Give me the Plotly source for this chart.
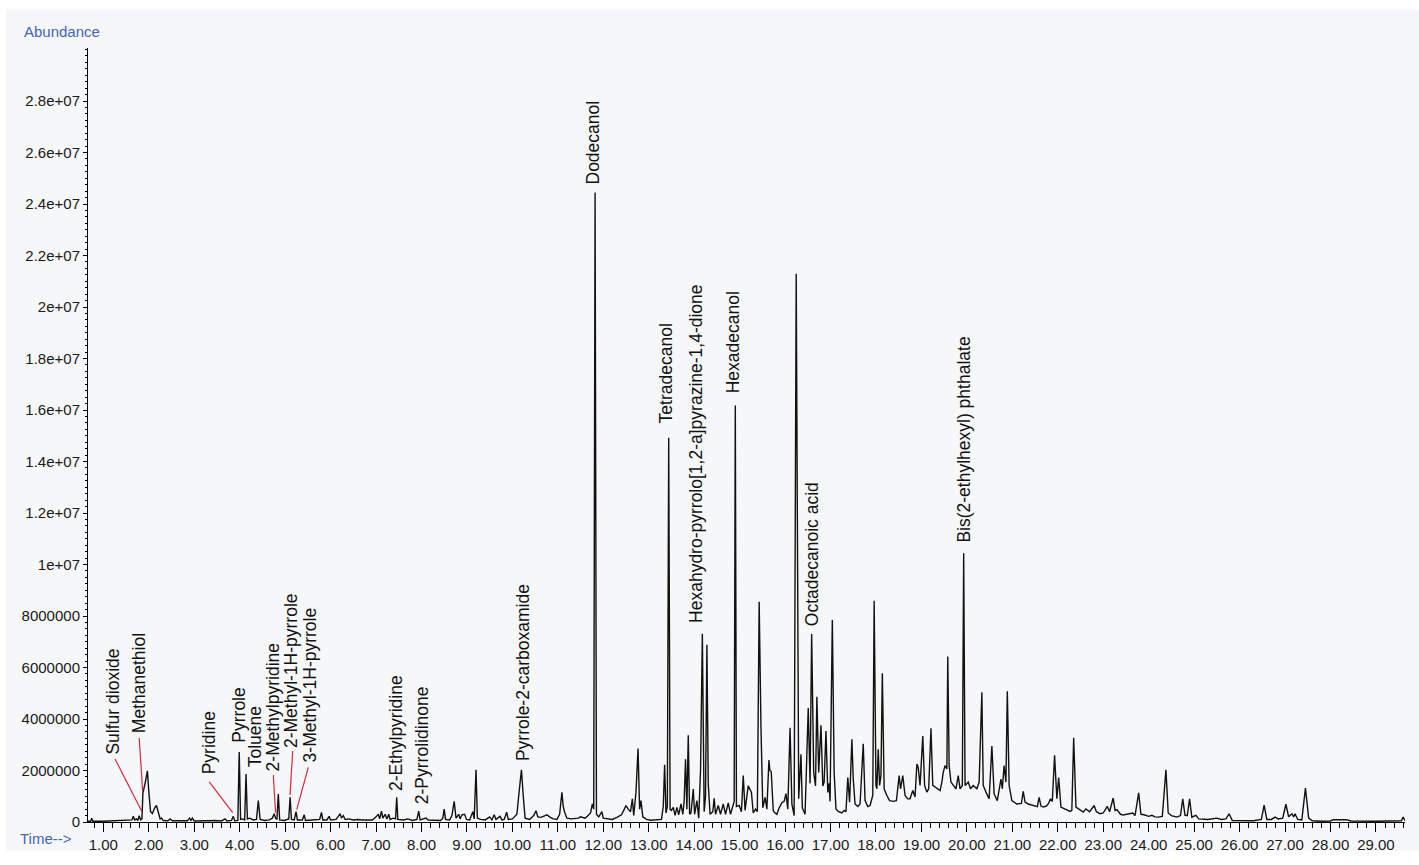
import numpy as np
import plotly.graph_objects as go

# ---------------- chromatogram trace (retention time in min, abundance in millions) ----------------
rt_a = [0.66, 0.72, 0.745, 0.77, 1.00, 1.30, 1.55, 1.63, 1.66, 1.69,
        1.73, 1.76, 1.79, 1.82, 1.85, 1.87, 1.93, 1.97, 2.00, 2.04,
        2.08, 2.13, 2.17, 2.21, 2.25, 2.28, 2.32, 2.42, 2.47, 2.52,
        2.70, 2.85, 2.90, 2.93, 2.96, 3.00, 3.30, 3.45, 3.60, 3.68,
        3.72, 3.82, 3.86, 3.89]
ab_a = [0.03, 0.03, 0.15, 0.03, 0.03, 0.04, 0.05, 0.08, 0.22, 0.08,
        0.12, 0.06, 0.24, 0.08, 0.12, 1.10, 1.60, 1.99, 1.20, 0.40,
        0.33, 0.55, 0.64, 0.40, 0.12, 0.15, 0.06, 0.05, 0.12, 0.05,
        0.04, 0.05, 0.15, 0.06, 0.15, 0.04, 0.05, 0.06, 0.04, 0.12,
        0.04, 0.06, 0.22, 0.05]

rt_b = [3.96, 3.99, 4.02, 4.06, 4.11, 4.14, 4.17, 4.22, 4.30, 4.37,
        4.41, 4.45, 4.55, 4.65, 4.72, 4.76, 4.79, 4.82, 4.85, 4.88,
        4.98, 5.05, 5.08, 5.11, 5.14, 5.20, 5.24, 5.27, 5.38, 5.42,
        5.45, 5.60, 5.68, 5.76, 5.80, 5.83, 5.92, 5.97, 6.00, 6.12,
        6.18, 6.21, 6.24, 6.28, 6.32, 6.40, 6.50, 6.60, 6.70, 6.85,
        6.92, 7.00, 7.05, 7.08, 7.12, 7.15, 7.20, 7.24, 7.28, 7.31,
        7.38, 7.43, 7.455, 7.48, 7.60, 7.70, 7.80, 7.90, 7.94, 7.97,
        8.10, 8.15, 8.30, 8.42, 8.47, 8.50, 8.53, 8.62, 8.67, 8.72,
        8.76, 8.82, 8.85, 8.89, 8.95, 8.99, 9.06, 9.13, 9.16, 9.20,
        9.23, 9.30, 9.40, 9.50, 9.55, 9.60, 9.64, 9.73, 9.77, 9.82,
        9.875, 9.91, 10.00, 10.10, 10.15, 10.20, 10.24, 10.28, 10.38, 10.47,
        10.52, 10.56, 10.63, 10.70, 10.76, 10.82, 10.90, 10.98, 11.04, 11.09,
        11.12, 11.15, 11.20]
ab_b = [0.06, 2.72, 0.10, 0.12, 0.08, 1.86, 0.12, 0.15, 0.08, 0.10,
        0.83, 0.10, 0.06, 0.08, 0.15, 0.32, 0.15, 0.10, 1.09, 0.08,
        0.06, 0.10, 0.12, 0.96, 0.10, 0.08, 0.40, 0.08, 0.08, 0.28,
        0.06, 0.08, 0.10, 0.10, 0.37, 0.08, 0.08, 0.22, 0.08, 0.10,
        0.25, 0.32, 0.15, 0.25, 0.10, 0.12, 0.08, 0.10, 0.08, 0.10,
        0.08, 0.20, 0.30, 0.12, 0.42, 0.15, 0.30, 0.12, 0.30, 0.10,
        0.15, 0.12, 0.96, 0.10, 0.08, 0.12, 0.06, 0.10, 0.42, 0.08,
        0.15, 0.08, 0.08, 0.06, 0.15, 0.50, 0.10, 0.08, 0.25, 0.80,
        0.15, 0.30, 0.12, 0.28, 0.30, 0.10, 0.08, 0.40, 0.12, 2.03,
        0.15, 0.10, 0.08, 0.20, 0.08, 0.28, 0.10, 0.22, 0.08, 0.10,
        0.38, 0.10, 0.12, 0.30, 1.20, 2.03, 1.00, 0.15, 0.10, 0.25,
        0.44, 0.20, 0.18, 0.25, 0.28, 0.20, 0.12, 0.10, 0.30, 1.15,
        0.60, 0.38, 0.15]

rt_c = [11.30, 11.45, 11.50, 11.60, 11.65, 11.72, 11.76, 11.79, 11.82, 11.85,
        11.90, 11.93, 11.97, 12.00, 12.10, 12.20, 12.30, 12.40, 12.45, 12.50,
        12.55, 12.60, 12.64, 12.67, 12.72, 12.765, 12.80, 12.83, 12.87, 12.95,
        13.05, 13.20, 13.28, 13.32, 13.35, 13.38, 13.41, 13.44, 13.47, 13.50,
        13.54, 13.58, 13.62, 13.66, 13.71, 13.75, 13.78, 13.81, 13.84, 13.87,
        13.90, 13.93, 13.98, 14.01, 14.06, 14.10, 14.14, 14.18, 14.22, 14.25,
        14.28, 14.31, 14.35, 14.41, 14.44, 14.47, 14.53, 14.58, 14.64, 14.69,
        14.75, 14.80, 14.85, 14.88, 14.905, 14.93, 14.99, 15.04, 15.08, 15.12,
        15.19, 15.23, 15.26, 15.30, 15.35, 15.39, 15.43, 15.47, 15.51]
ab_c = [0.12, 0.15, 0.20, 0.15, 0.22, 0.35, 0.70, 0.50, 24.45, 0.30,
        0.20, 0.30, 0.40, 0.15, 0.12, 0.10, 0.18, 0.28, 0.45, 0.64,
        0.50, 0.40, 0.90, 0.25, 1.15, 2.85, 0.50, 0.83, 0.20, 0.10,
        0.07, 0.08, 0.10, 0.60, 2.22, 0.35, 0.60, 14.92, 0.50, 0.45,
        0.57, 0.26, 0.57, 0.28, 0.70, 0.30, 0.80, 2.44, 0.50, 3.37,
        0.30, 0.35, 1.28, 0.30, 0.83, 0.15, 2.00, 7.31, 0.40, 1.00,
        6.88, 1.50, 0.30, 0.40, 0.92, 0.30, 0.64, 0.30, 0.70, 0.30,
        0.74, 0.30, 0.60, 0.80, 16.18, 0.60, 0.64, 0.40, 1.80, 0.45,
        1.41, 1.22, 1.15, 0.35, 0.50, 0.40, 8.55, 3.66, 0.55]

rt_d = [15.56, 15.60, 15.645, 15.665, 15.695, 15.74, 15.78, 15.82, 15.87, 15.93,
        15.98, 16.02, 16.06, 16.11, 16.15, 16.20, 16.245, 16.28, 16.30, 16.35,
        16.38, 16.44, 16.51, 16.55, 16.585, 16.63, 16.67, 16.70, 16.74, 16.79,
        16.83, 16.86, 16.90, 16.94, 16.97, 16.99, 17.04, 17.08, 17.12, 17.17,
        17.25, 17.30, 17.34, 17.38, 17.42, 17.47, 17.50, 17.54, 17.60, 17.65,
        17.72, 17.76, 17.82, 17.87, 17.93, 17.96, 18.00, 18.02, 18.05, 18.08,
        18.11, 18.14, 18.18, 18.24, 18.30, 18.38, 18.45, 18.51, 18.54, 18.59,
        18.64, 18.70, 18.75, 18.81, 18.86, 18.90, 18.93, 18.97, 19.03, 19.07,
        19.12, 19.16, 19.21, 19.25, 19.34, 19.41, 19.45, 19.48, 19.52, 19.56,
        19.58, 19.61, 19.65, 19.70, 19.76, 19.81, 19.85, 19.90, 19.93, 19.96,
        20.03, 20.08, 20.14, 20.22, 20.27, 20.33, 20.36, 20.42, 20.49, 20.55,
        20.60, 20.67, 20.75, 20.78, 20.82, 20.86, 20.89, 20.93, 20.99]
ab_d = [0.96, 0.50, 2.41, 2.00, 1.96, 0.44, 0.35, 0.30, 0.55, 0.75,
        0.80, 1.10, 0.50, 3.66, 0.70, 0.25, 21.29, 4.69, 0.90, 2.63,
        0.55, 0.30, 4.43, 1.50, 7.30, 1.92, 1.40, 4.86, 1.92, 3.76,
        1.40, 1.55, 3.53, 1.15, 1.50, 0.80, 7.84, 1.92, 0.51, 0.41,
        0.35, 0.45, 0.40, 1.73, 0.77, 3.21, 1.67, 0.70, 0.60, 0.70,
        3.04, 0.83, 0.60, 0.64, 1.03, 8.59, 1.42, 1.29, 2.82, 1.42,
        1.80, 5.78, 1.29, 1.03, 0.83, 0.80, 0.83, 1.80, 1.29, 1.80,
        1.03, 0.90, 0.90, 1.22, 0.97, 2.25, 2.12, 1.42, 3.34, 1.42,
        1.16, 1.29, 3.64, 1.42, 1.29, 1.22, 1.55, 1.93, 2.19, 2.06,
        6.43, 2.19, 1.55, 1.42, 1.29, 1.80, 1.29, 1.42, 10.44, 1.42,
        1.55, 1.29, 1.42, 1.29, 1.55, 5.04, 1.42, 1.16, 0.90, 2.95,
        1.09, 0.83, 1.67, 1.29, 2.19, 1.55, 5.08, 1.42, 0.83]

rt_e = [21.10, 21.20, 21.24, 21.28, 21.35, 21.46, 21.55, 21.59, 21.63, 21.68,
        21.75, 21.79, 21.84, 21.88, 21.93, 21.98, 22.02, 22.07, 22.16, 22.27,
        22.31, 22.35, 22.40, 22.50, 22.56, 22.62, 22.70, 22.80, 22.85, 22.93,
        23.00, 23.09, 23.14, 23.22, 23.26, 23.30, 23.38, 23.44, 23.55, 23.65,
        23.70, 23.78, 23.83, 23.90, 24.00, 24.07, 24.14, 24.21, 24.30, 24.38,
        24.43, 24.50, 24.62, 24.70, 24.75, 24.80, 24.85, 24.90, 24.95, 25.04,
        25.10, 25.30, 25.50, 25.60, 25.70, 25.77, 25.84, 26.00, 26.30, 26.48,
        26.54, 26.60, 26.70, 26.78, 26.85, 26.95, 27.02, 27.08, 27.15, 27.19,
        27.22, 27.28, 27.37, 27.45, 27.52, 27.60, 27.80, 28.00, 28.06, 28.35,
        28.45, 29.00, 29.50, 29.56, 29.60, 29.64]
ab_e = [0.70, 0.72, 1.19, 0.77, 0.70, 0.64, 0.60, 0.96, 0.62, 0.58,
        0.62, 0.70, 0.90, 0.80, 2.59, 0.90, 1.73, 0.58, 0.51, 0.41,
        0.45, 3.27, 0.58, 0.45, 0.39, 0.51, 0.40, 0.64, 0.40, 0.32,
        0.35, 0.61, 0.40, 0.93, 0.45, 0.48, 0.30, 0.27, 0.30, 0.35,
        0.25, 1.13, 0.30, 0.28, 0.22, 0.26, 0.20, 0.19, 0.22, 2.03,
        0.35, 0.25, 0.19, 0.25, 0.90, 0.26, 0.25, 0.90, 0.19, 0.26,
        0.12, 0.10, 0.15, 0.10, 0.12, 0.32, 0.06, 0.05, 0.05, 0.10,
        0.66, 0.10, 0.10, 0.19, 0.12, 0.15, 0.69, 0.20, 0.32, 0.20,
        0.32, 0.10, 0.08, 1.32, 0.15, 0.05, 0.03, 0.04, 0.09, 0.09,
        0.04, 0.03, 0.04, 0.05, 0.19, 0.05]

# ---------------- compound labels (retention time, abundance at label foot, millions) ----------------
label_names = ["Sulfur dioxide", "Methanethiol", "Pyridine", "Pyrrole", "Toluene",
               "2-Methylpyridine", "2-Methyl-1H-pyrrole", "3-Methyl-1H-pyrrole",
               "2-Ethylpyridine", "2-Pyrrolidinone", "Pyrrole-2-carboxamide",
               "Dodecanol", "Tetradecanol", "Hexahydro-pyrrolo[1,2-a]pyrazine-1,4-dione",
               "Hexadecanol", "Octadecanoic acid", "Bis(2-ethylhexyl) phthalate"]
label_rt = [1.207, 1.79, 3.33, 3.99, 4.34, 4.73, 5.145, 5.55, 7.455, 8.005, 10.23,
            11.78, 13.38, 14.04, 14.86, 16.59, 19.93]
label_ab = [2.57, 3.42, 1.80, 3.03, 2.07, 1.92, 2.84, 2.26, 1.15, 0.64, 2.34,
            24.73, 15.44, 7.71, 16.62, 7.56, 10.80]

# leader lines for the crowded early peaks: (rt_from, ab_from, rt_to, ab_to)
leader_rt0 = [1.257, 1.79, 3.33, 4.74, 5.167, 5.51]
leader_ab0 = [2.45, 3.26, 1.56, 1.82, 2.76, 2.12]
leader_rt1 = [1.845, 1.867, 3.847, 4.79, 5.108, 5.255]
leader_ab1 = [0.42, 1.14, 0.36, 0.36, 1.05, 0.48]

y_tick_vals = [0, 2e6, 4e6, 6e6, 8e6, 1e7, 1.2e7, 1.4e7, 1.6e7, 1.8e7,
               2e7, 2.2e7, 2.4e7, 2.6e7, 2.8e7]
y_tick_text = ["0", "2000000", "4000000", "6000000", "8000000", "1e+07", "1.2e+07",
               "1.4e+07", "1.6e+07", "1.8e+07", "2e+07", "2.2e+07", "2.4e+07",
               "2.6e+07", "2.8e+07"]

# ---------------- build ----------------
rt_parts = [rt_a, rt_b, rt_c, rt_d, rt_e]
ab_parts = [ab_a, ab_b, ab_c, ab_d, ab_e]
for r, a in zip(rt_parts, ab_parts):
    assert len(r) == len(a), (len(r), len(a))
rt = np.concatenate([np.asarray(p, float) for p in rt_parts])
ab = np.concatenate([np.asarray(p, float) for p in ab_parts]) * 1e6

FONT = "Liberation Sans, Arial, Helvetica, sans-serif"
BG = "#f6f7f9"
BLUE = "#4863b5"

fig = go.Figure()
fig.add_trace(go.Scatter(x=rt, y=ab, mode="lines",
                         line=dict(color="#111111", width=1.4),
                         hoverinfo="skip", showlegend=False))

for name, t, v in zip(label_names, label_rt, label_ab):
    fig.add_annotation(x=t, y=v * 1e6, text=name, textangle=-90, showarrow=False,
                       xanchor="center", yanchor="bottom", borderpad=0,
                       font=dict(family=FONT, size=17.5, color="#111111"))

for x0, y0, x1, y1 in zip(leader_rt0, leader_ab0, leader_rt1, leader_ab1):
    fig.add_shape(type="line", xref="x", yref="y", x0=x0, y0=y0 * 1e6, x1=x1, y1=y1 * 1e6,
                  line=dict(color="#d42a3c", width=1.2))

# panel background
fig.add_shape(type="rect", xref="paper", yref="paper", x0=-0.0623, x1=1.02, y0=-0.037, y1=1.05,
              fillcolor=BG, line=dict(width=0), layer="below")

fig.add_annotation(xref="paper", yref="paper", x=-0.0501, y=1.021, text="Abundance",
                   showarrow=False, xanchor="left", yanchor="middle",
                   font=dict(family=FONT, size=15, color=BLUE))
fig.add_annotation(xref="paper", yref="paper", x=-0.0535, y=-0.0215, text="Time-->",
                   showarrow=False, xanchor="left", yanchor="middle",
                   font=dict(family=FONT, size=15, color=BLUE))

fig.update_layout(
    width=1419, height=865,
    margin=dict(l=88, r=14, t=48, b=38),
    paper_bgcolor="white", plot_bgcolor="rgba(0,0,0,0)",
    font=dict(family=FONT, size=15, color="#1a1a1a"),
    showlegend=False,
    xaxis=dict(range=[0.663, 29.64], tick0=1, dtick=1, tickformat=".2f",
               showgrid=False, zeroline=False, showline=True, linecolor="black", linewidth=1,
               ticks="outside", ticklen=9, tickcolor="black", tickwidth=1,
               tickfont=dict(family=FONT, size=15, color="#1a1a1a"),
               minor=dict(ticks="outside", ticklen=5, tickcolor="black", dtick=0.2, tick0=1,
                          showgrid=False)),
    yaxis=dict(range=[0, 3.006e7], tickvals=y_tick_vals, ticktext=y_tick_text,
               showgrid=False, zeroline=False, showline=True, linecolor="black", linewidth=1,
               ticks="outside", ticklen=4, tickcolor="black", tickwidth=1,
               tickfont=dict(family=FONT, size=15, color="#1a1a1a"),
               minor=dict(ticks="outside", ticklen=2, tickcolor="black", dtick=250000,
                          showgrid=False)),
)

fig.write_html("out.html", config={"displayModeBar": False},
               post_script="document.body.style.margin='0';document.body.style.overflow='hidden';")
